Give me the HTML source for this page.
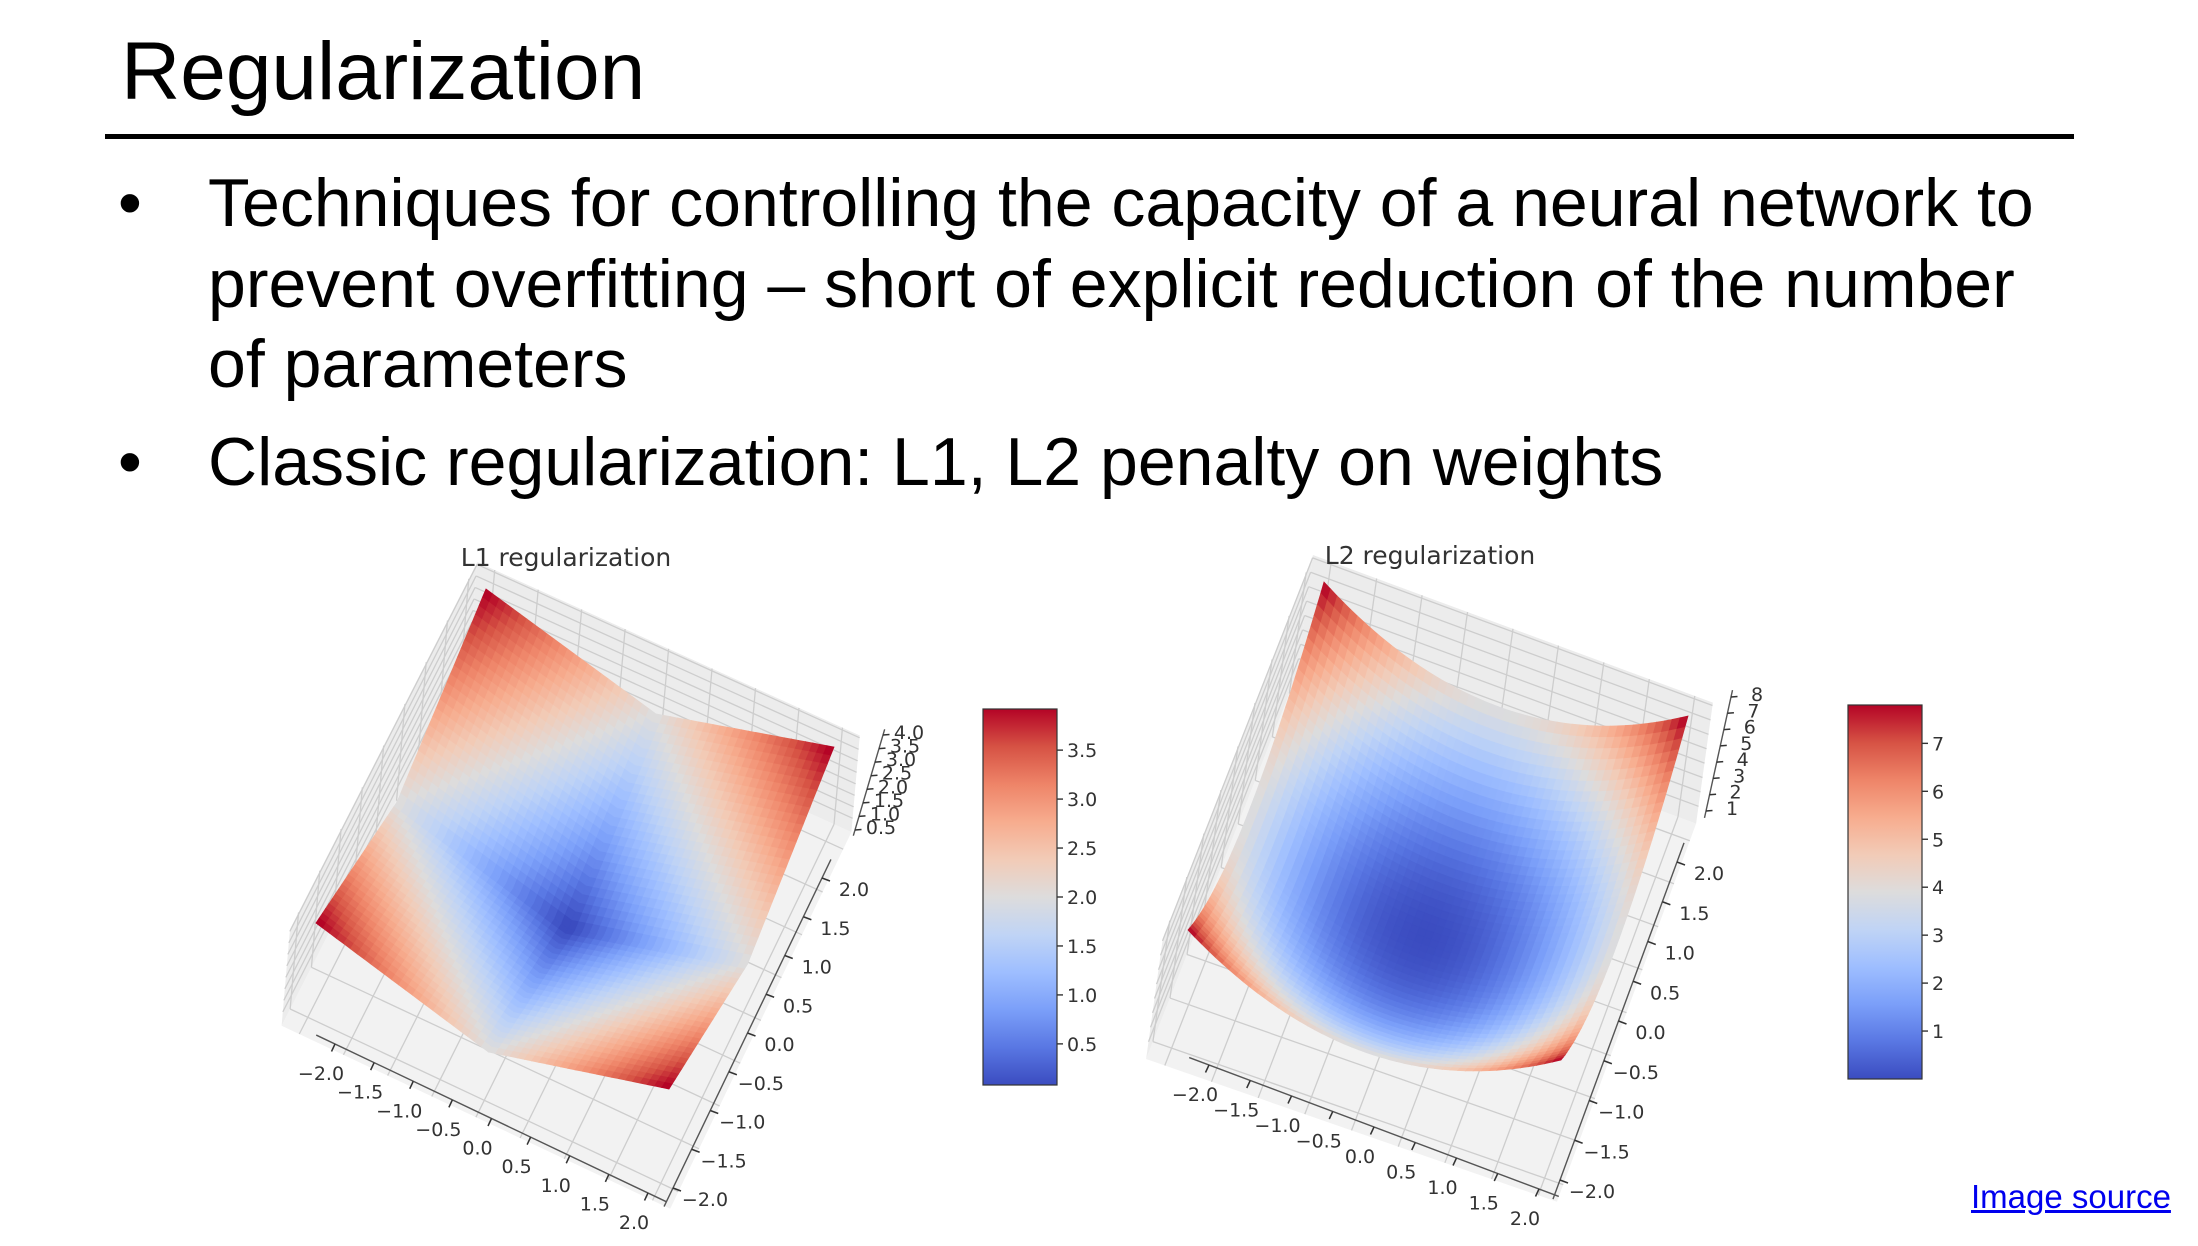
<!DOCTYPE html>
<html><head><meta charset="utf-8">
<style>
html,body{margin:0;padding:0;background:#fff;}
body{width:2198px;height:1246px;overflow:hidden;position:relative;font-family:"Liberation Sans",Arial,sans-serif;}
#title{position:absolute;left:121px;top:31px;font-size:82px;color:#000;line-height:1;}
#rule{position:absolute;left:105px;top:134px;width:1980px;height:5px;background:#000;}
.bl{position:absolute;font-size:68px;color:#000;white-space:nowrap;line-height:1;}
.dot{position:absolute;font-size:68px;line-height:1;}
#src{position:absolute;left:1971px;top:1178px;font-size:33px;color:#0000ee;text-decoration:underline;white-space:nowrap;}
svg{position:absolute;left:0;top:0;}
</style></head>
<body>
<div id="title">Regularization</div>
<div id="rule" style="width:1969px"></div>
<div class="dot" style="left:118px;top:169px">•</div>
<div class="bl" style="left:208px;top:169px">Techniques for controlling the capacity of a neural network to</div>
<div class="bl" style="left:208px;top:250px">prevent overfitting – short of explicit reduction of the number</div>
<div class="bl" style="left:208px;top:330px">of parameters</div>
<div class="dot" style="left:118px;top:428px">•</div>
<div class="bl" style="left:208px;top:428px">Classic regularization: L1, L2 penalty on weights</div>
<div id="src">Image source</div>
<svg id="chart" width="2198" height="1246"></svg>
<script>
// ---- data ----
const axisTicks = [-2.0,-1.5,-1.0,-0.5,0.0,0.5,1.0,1.5,2.0];
const l1ZTicks = [0.5,1.0,1.5,2.0,2.5,3.0,3.5,4.0];
const l2ZTicks = [1,2,3,4,5,6,7,8];
const l1CbarTicks = [0.5,1.0,1.5,2.0,2.5,3.0,3.5];
const l2CbarTicks = [1,2,3,4,5,6,7];
const l1Range = [0.08,3.92];
const l2Range = [0.0,7.8];

const NS='http://www.w3.org/2000/svg';
const svg=document.getElementById('chart');
function mk(tag,attrs,parent){const e=document.createElementNS(NS,tag);for(const k in attrs)e.setAttribute(k,attrs[k]);(parent||svg).appendChild(e);return e;}
const cw=[[59,76,192],[89,119,227],[123,159,249],[158,190,255],[192,212,245],[221,220,220],[242,203,183],[247,172,142],[238,132,104],[214,82,68],[180,4,38]];
function coolwarm(t){t=Math.max(0,Math.min(1,t))*10;const i=Math.min(9,Math.floor(t)),f=t-i;const a=cw[i],b=cw[i+1];return 'rgb('+a.map((v,k)=>Math.round(v+(b[k]-v)*f)).join(',')+')';}
function fmt(v,d){return (v<0?'\u2212':'')+Math.abs(v).toFixed(d);}

const plots=[
 {key:'l1',title:'L1 regularization',titlePos:[566,566],f:(x,y)=>Math.abs(x)+Math.abs(y),zTicks:l1ZTicks,cbarTicks:l1CbarTicks,range:l1Range,dec:1,
  T:[486,589],R:[834,747],B:[669,1089],L:[316,923],zc:4,dz:[2,-23],zb:-0.1,zt:4.1,
  xLab:[[321,1074],[634,1223]],yLab:[[705,1200],[854,890]],zLab:[[881,828],[909,733]],cbar:[983,709,74,376]},
 {key:'l2',title:'L2 regularization',titlePos:[1430,564],f:(x,y)=>x*x+y*y,zTicks:l2ZTicks,cbarTicks:l2CbarTicks,range:l2Range,dec:0,
  T:[1324,582],R:[1688,716],B:[1561,1060],L:[1188,930],zc:8,dz:[2,-14.4],zb:-0.2,zt:8.2,
  xLab:[[1195,1095],[1525,1219]],yLab:[[1592,1192],[1709,874]],zLab:[[1732,809],[1757,695]],cbar:[1848,705,74,374]}
];

plots.forEach(p=>{
 const g=mk('g',{});
 
 
 const P=(x,y,z)=>{const u=(x+2)/4,v=(y+2)/4;
  const bx=p.L[0]*(1-u)*(1-v)+p.B[0]*u*(1-v)+p.R[0]*u*v+p.T[0]*(1-u)*v;
  const by=p.L[1]*(1-u)*(1-v)+p.B[1]*u*(1-v)+p.R[1]*u*v+p.T[1]*(1-u)*v;
  return [bx+(z-p.zc)*p.dz[0],by+(z-p.zc)*p.dz[1]];};
 const pts=a=>a.map(q=>q[0].toFixed(1)+','+q[1].toFixed(1)).join(' ');
 const E=2.2;
 const floor=mk('polygon',{points:pts([P(-E,-E,p.zb),P(E,-E,p.zb),P(E,E,p.zb),P(-E,E,p.zb)]),fill:'#f2f2f2'},g);
 
 const w1=mk('polygon',{points:pts([P(-E,-E,p.zb),P(-E,E,p.zb),P(-E,E,p.zt),P(-E,-E,p.zt)]),fill:'#ececec'},g);
 
 const w2=mk('polygon',{points:pts([P(-E,E,p.zb),P(E,E,p.zb),P(E,E,p.zt),P(-E,E,p.zt)]),fill:'#ececec'},g);
 
 const gl=mk('g',{stroke:'#cdcdcd','stroke-width':1.3,fill:'none'},g);
 
 const line=(a,b)=>mk('line',{x1:a[0],y1:a[1],x2:b[0],y2:b[1]},gl);
 axisTicks.forEach(t=>{line(P(t,-E,p.zb),P(t,E,p.zb));line(P(-E,t,p.zb),P(E,t,p.zb));
  line(P(-E,t,p.zb),P(-E,t,p.zt));line(P(t,E,p.zb),P(t,E,p.zt));});
 p.zTicks.forEach(z=>{line(P(-E,-E,z),P(-E,E,z));line(P(-E,E,z),P(E,E,z));});
 const N=50,quads=[];
 for(let i=0;i<N;i++)for(let j=0;j<N;j++){
  const x0=-2+4*i/N,x1=-2+4*(i+1)/N,y0=-2+4*j/N,y1=-2+4*(j+1)/N;
  const zc=(p.f(x0,y0)+p.f(x1,y0)+p.f(x1,y1)+p.f(x0,y1))/4;
  quads.push({d:(y0+y1)-(x0+x1),q:[P(x0,y0,p.f(x0,y0)),P(x1,y0,p.f(x1,y0)),P(x1,y1,p.f(x1,y1)),P(x0,y1,p.f(x0,y1))],c:coolwarm((zc-p.range[0])/(p.range[1]-p.range[0]))});
 }
 quads.sort((a,b)=>b.d-a.d);
 const sg=mk('g',{},g);
 
 quads.forEach(o=>mk('polygon',{points:pts(o.q),fill:o.c,stroke:o.c,'stroke-width':0.8},sg));
 const lerp=(ends,ticks,v)=>{const t=(v-ticks[0])/(ticks[ticks.length-1]-ticks[0]);return [ends[0][0]+(ends[1][0]-ends[0][0])*t,ends[0][1]+(ends[1][1]-ends[0][1])*t];};
 const ax=mk('g',{fill:'#333','font-family':'DejaVu Sans, sans-serif','font-size':19},g);
 
 const axisLine=(ends,off,ticks,name,dec)=>{
  const a=lerp(ends,ticks,ticks[0]),b=lerp(ends,ticks,ticks[ticks.length-1]);
  const ex=(b[0]-a[0])*0.06,ey=(b[1]-a[1])*0.06;
  const l=mk('line',{x1:a[0]+off[0]-ex,y1:a[1]+off[1]-ey,x2:b[0]+off[0]+ex,y2:b[1]+off[1]+ey,stroke:'#555','stroke-width':1.4},ax);
  
  ticks.forEach(v=>{const q=lerp(ends,ticks,v);
   mk('line',{x1:q[0]+off[0],y1:q[1]+off[1],x2:q[0]+off[0]*0.75,y2:q[1]+off[1]*0.75,stroke:'#333','stroke-width':1.5},ax);
   const t=mk('text',{x:q[0],y:q[1]+6,'text-anchor':'middle'},ax);
   
   t.textContent=fmt(v,dec);});
 };
 axisLine(p.xLab,[14,-30],axisTicks,'x',1);
 axisLine(p.yLab,[-32,-12],axisTicks,'y',1);
 axisLine(p.zLab,[-26,2],p.zTicks,'z',p.dec);
 const tt=mk('text',{x:p.titlePos[0],y:p.titlePos[1],'text-anchor':'middle','font-family':'DejaVu Sans, sans-serif','font-size':25,fill:'#333'},g);
 
 tt.textContent=p.title;
 const [cx,cy,cwid,ch]=p.cbar;
 const gid='grad-'+p.key;
 const lg=mk('linearGradient',{id:gid,x1:0,y1:1,x2:0,y2:0},mk('defs',{},g));
 for(let k=0;k<=10;k++)mk('stop',{offset:k/10,'stop-color':coolwarm(k/10)},lg);
 const cb=mk('rect',{x:cx,y:cy,width:cwid,height:ch,fill:'url(#'+gid+')',stroke:'#333','stroke-width':1.2},g);
 
 const cyOf=v=>cy+ch-(v-p.range[0])/(p.range[1]-p.range[0])*ch;
 p.cbarTicks.forEach(v=>{const y=cyOf(v);
  mk('line',{x1:cx+cwid,y1:y,x2:cx+cwid+6,y2:y,stroke:'#333','stroke-width':1.4},g);
  const t=mk('text',{x:cx+cwid+10,y:y+7,'font-family':'DejaVu Sans, sans-serif','font-size':19,fill:'#333'},g);
  
  t.textContent=fmt(v,p.dec);});
});
</script>
</body></html>
